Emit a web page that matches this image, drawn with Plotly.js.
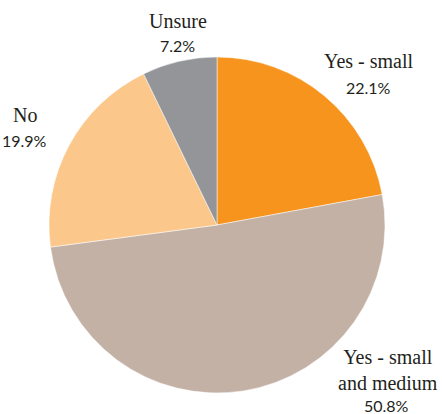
<!DOCTYPE html>
<html>
<head>
<meta charset="utf-8">
<script src="https://cdn.plot.ly/plotly-3.0.1.min.js"></script>
<style>html,body{margin:0;padding:0;background:#fff;}#chart{width:442px;height:414px;}</style>
</head>
<body>
<div id="chart"></div>
<script>
const labels = ["Yes - small", "Yes - small and medium", "No", "Unsure"];
const labelLines = ["Yes - small", "Yes - small<br>and medium", "No", "Unsure"];
const values = [22.1, 50.8, 19.9, 7.2];
const colors = ["#F7941D", "#C4B1A5", "#FBC78A", "#939598"];

// label placement (paper coords): [nameX, nameY, pctX, pctY]
const labelPos = [
  [369/442, 1-61/414, 368/442, 1-87/414],
  [388/442, 1-370/414, 386/442, 1-405/414],
  [25/442, 1-115/414, 24/442, 1-141/414],
  [178/442, 1-21/414, 177/442, 1-45/414]
];

const annotations = [];
labels.forEach((l, i) => {
  const p = labelPos[i];
  annotations.push({
    xref: "paper", yref: "paper", x: p[0], y: p[1], showarrow: false,
    text: labelLines[i], xanchor: "center", yanchor: "middle",
    font: {family: "'Liberation Serif', 'Times New Roman', Times, serif", size: 20, color: "#231F20"}
  });
  annotations.push({
    xref: "paper", yref: "paper", x: p[2], y: p[3], showarrow: false,
    text: values[i].toFixed(1) + "%", xanchor: "center", yanchor: "middle",
    font: {family: "Lato, 'Open Sans', sans-serif", size: 16, color: "#231F20"}
  });
});

const data = [{
  type: "pie",
  labels: labels,
  values: values,
  sort: false,
  direction: "clockwise",
  rotation: 0,
  textinfo: "none",
  hoverinfo: "label+percent",
  marker: {colors: colors, line: {color: "#ffffff", width: 0.5}},
  domain: {x: [49/442, 385/442], y: [1-393/414, 1-57/414]}
}];

const layout = {
  width: 442, height: 414,
  margin: {l: 0, r: 0, t: 0, b: 0},
  showlegend: false,
  paper_bgcolor: "#ffffff",
  annotations: annotations
};

Plotly.newPlot("chart", data, layout, {displayModeBar: false, staticPlot: true});
</script>
</body>
</html>
